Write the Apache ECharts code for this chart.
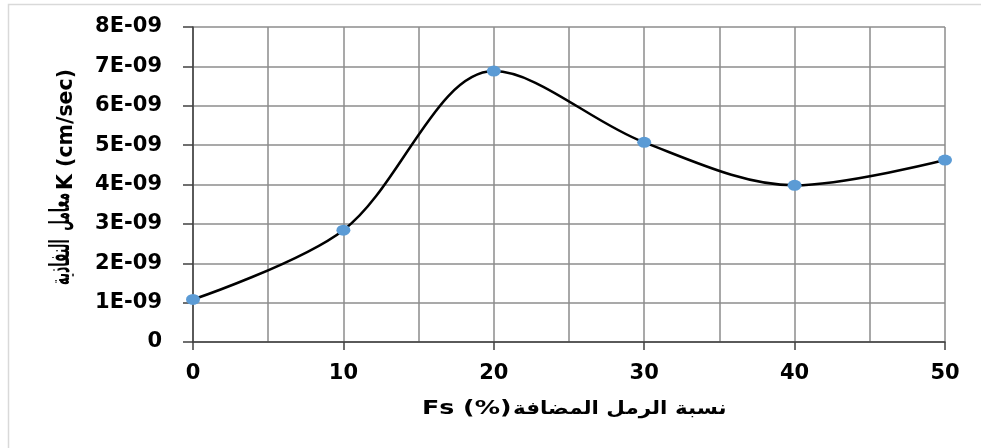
<!DOCTYPE html>
<html>
<head>
<meta charset="utf-8">
<script src="https://cdn.jsdelivr.net/npm/echarts@6/dist/echarts.min.js"></script>
<style>
html,body{margin:0;padding:0;background:#fff;}
#c{width:981px;height:448px;}
</style>
</head>
<body>
<div id="c"></div>
<script>
const fsPercent = [0, 10, 20, 30, 40, 50];
const kValues = [1.08e-9, 2.84e-9, 6.88e-9, 5.07e-9, 3.98e-9, 4.62e-9];
const yTitleLatin = 'K (cm/sec)';
const yTitleArabic = 'معامل  النفاذية';
const xTitleLatin = 'Fs (%)';
const xTitleArabic = 'نسبة الرمل المضافة';

const chart = echarts.init(document.getElementById('c'), null, {renderer: 'canvas'});
const font = '"DejaVu Sans", sans-serif';
const tf = (size) => 'bold ' + size + 'px "DejaVu Sans", sans-serif';
chart.setOption({
  animation: false,
  backgroundColor: '#fff',
  graphic: [
    {
      type: 'rect', left: 6, top: 2,
      shape: {width: 990, height: 445},
      style: {fill: 'none', stroke: '#d9d9d9', lineWidth: 1.5},
      silent: true, z: -10
    },
    {
      type: 'text', x: 422, y: 409.5, scaleX: 1.33, silent: true,
      style: {text: xTitleLatin, font: tf(19), fill: '#000', align: 'left', verticalAlign: 'middle'}
    },
    {
      type: 'text', x: 513, y: 409.5, scaleX: 1.19, silent: true,
      style: {text: xTitleArabic, font: tf(18), fill: '#000', align: 'left', verticalAlign: 'middle'}
    },
    {
      type: 'text', x: 66.5, y: 190, rotation: Math.PI / 2, silent: true,
      style: {text: yTitleLatin, font: tf(20.5), fill: '#000', align: 'left', verticalAlign: 'middle'}
    },
    {
      type: 'text', x: 62, y: 193, rotation: Math.PI / 2, scaleX: 0.6, scaleY: 1.35, silent: true,
      style: {text: yTitleArabic, font: tf(20.5), fill: '#000', align: 'right', verticalAlign: 'middle'}
    }
  ],
  grid: {left: 193, right: 36, top: 27, bottom: 106},
  xAxis: {
    type: 'value', min: 0, max: 50, interval: 10,
    axisLine: {show: true, lineStyle: {color: '#404040', width: 1.5}},
    axisTick: {show: true, length: 8, lineStyle: {color: '#404040', width: 1.5}},
    axisLabel: {margin: 21, fontFamily: font, fontWeight: 'bold', fontSize: 21, color: '#000'},
    splitLine: {show: true, lineStyle: {color: '#8c8c8c', width: 1.5}},
    minorTick: {show: false, splitNumber: 2},
    minorSplitLine: {show: true, lineStyle: {color: '#8c8c8c', width: 1.5}}
  },
  yAxis: {
    type: 'value', min: 0, max: 8e-9, interval: 1e-9,
    axisLine: {show: true, lineStyle: {color: '#404040', width: 1.5}},
    axisTick: {show: true, length: 10, lineStyle: {color: '#404040', width: 1.5}},
    axisLabel: {
      margin: 31, fontFamily: font, fontWeight: 'bold', fontSize: 21, color: '#000',
      formatter: v => v === 0 ? '0' : Math.round(v * 1e9) + 'E-09'
    },
    splitLine: {show: true, lineStyle: {color: '#8c8c8c', width: 1.5}}
  },
  series: [{
    type: 'line',
    data: fsPercent.map((x, i) => [x, kValues[i]]),
    smooth: 0.33,
    symbol: 'circle',
    symbolSize: [14, 11],
    itemStyle: {color: '#5b9bd5'},
    lineStyle: {color: '#000', width: 2.5},
    clip: false
  }]
});
</script>
</body>
</html>
